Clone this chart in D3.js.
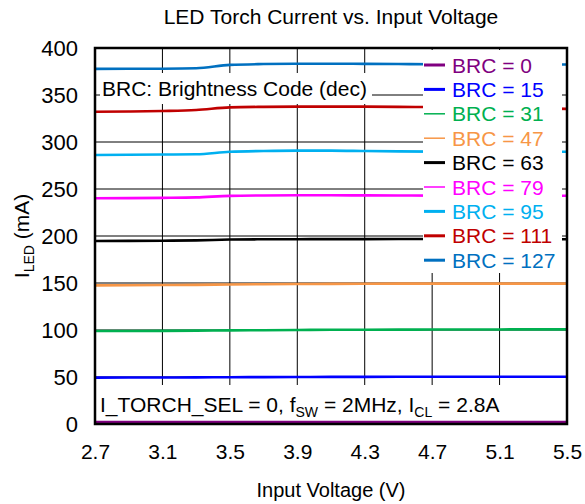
<!DOCTYPE html>
<html>
<head>
<meta charset="utf-8">
<script src="https://cdn.jsdelivr.net/npm/d3@7"></script>
<style>
  body { margin: 0; background: #fff; }
  text { font-family: "Liberation Sans", Arial, sans-serif; fill: #000; }
</style>
</head>
<body>
<svg id="chart" width="585" height="504"></svg>
<script>
// Input voltage sweep (V)
const voltages = [2.7, 2.9, 3.1, 3.3, 3.5, 3.7, 3.9, 4.1, 4.3, 4.5, 4.7, 4.9, 5.1, 5.3, 5.5];

// LED torch current (mA) for each brightness code
const brc0   = [2.0, 2.0, 2.0, 2.0, 2.1, 2.1, 2.1, 2.1, 2.1, 2.1, 2.1, 2.1, 2.1, 2.1, 2.1];
const brc15  = [49.3, 49.4, 49.5, 49.6, 49.8, 49.9, 50.0, 50.1, 50.1, 50.2, 50.2, 50.3, 50.3, 50.3, 50.3];
const brc31  = [98.9, 99.0, 99.1, 99.3, 99.6, 99.8, 100.0, 100.2, 100.3, 100.4, 100.5, 100.6, 100.6, 100.7, 100.7];
const brc47  = [147.5, 147.6, 147.8, 148.0, 148.4, 148.7, 148.9, 149.1, 149.2, 149.3, 149.3, 149.3, 149.3, 149.3, 149.3];
const brc63  = [194.7, 194.8, 195.0, 195.3, 196.2, 196.5, 196.6, 196.7, 196.7, 196.8, 196.8, 196.8, 196.7, 196.6, 196.5];
const brc79  = [240.1, 240.3, 240.6, 241.1, 242.7, 243.1, 243.3, 243.3, 243.2, 243.1, 242.9, 242.9, 242.8, 242.8, 242.8];
const brc95  = [286.2, 286.4, 286.7, 287.0, 289.6, 290.4, 290.8, 290.8, 290.4, 290.0, 289.8, 289.7, 289.6, 289.6, 289.6];
const brc111 = [332.2, 332.5, 333.0, 334.0, 336.8, 337.4, 337.6, 337.6, 337.6, 337.4, 337.2, 337.0, 336.5, 335.8, 335.2];
const brc127 = [377.8, 377.9, 378.0, 378.4, 382.0, 382.9, 383.2, 383.3, 383.1, 382.9, 382.7, 382.6, 382.5, 382.5, 382.5];

const seriesNames  = ["BRC = 0", "BRC = 15", "BRC = 31", "BRC = 47", "BRC = 63", "BRC = 79", "BRC = 95", "BRC = 111", "BRC = 127"];
const seriesColors = ["#800080", "#0000FF", "#00B050", "#F79646", "#000000", "#FF00FF", "#00B0F0", "#C00000", "#0070C0"];
const legendWidths = [3, 3, 1.5, 1.5, 3, 1.5, 3, 3, 3];

const xTicks = [2.7, 3.1, 3.5, 3.9, 4.3, 4.7, 5.1, 5.5];
const yTicks = [0, 50, 100, 150, 200, 250, 300, 350, 400];

const seriesValues = [brc0, brc15, brc31, brc47, brc63, brc79, brc95, brc111, brc127];
const series = seriesNames.map((name, i) => ({
  name,
  color: seriesColors[i],
  legendWidth: legendWidths[i],
  points: voltages.map((v, j) => ({ v, i: seriesValues[i][j] }))
}));

const svg = d3.select("#chart");
const plot = { left: 95, right: 567, top: 48, bottom: 424 };
const fontSize = 21;

const x = d3.scaleLinear().domain([2.7, 5.5]).range([plot.left, plot.right]);
const y = d3.scaleLinear().domain([0, 400]).range([plot.bottom, plot.top]);

// Title
svg.append("text")
  .attr("x", (plot.left + plot.right) / 2)
  .attr("y", 24)
  .attr("text-anchor", "middle")
  .style("font-size", "21px")
  .text("LED Torch Current vs. Input Voltage");

// Grid
const grid = svg.append("g").attr("class", "grid");
grid.selectAll("line.v")
  .data(xTicks.slice(1, -1))
  .join("line")
  .attr("x1", d => x(d)).attr("x2", d => x(d))
  .attr("y1", plot.top).attr("y2", plot.bottom)
  .attr("stroke", "#000").attr("stroke-width", 1);
grid.selectAll("line.h")
  .data(yTicks.slice(1, -1))
  .join("line")
  .attr("x1", plot.left).attr("x2", plot.right)
  .attr("y1", d => y(d)).attr("y2", d => y(d))
  .attr("stroke", "#000").attr("stroke-width", 1);

// Annotation: brightness code note
const note1 = svg.append("g");
note1.append("rect")
  .attr("x", 100).attr("y", 73).attr("width", 272).attr("height", 31)
  .attr("fill", "#fff");
note1.append("text")
  .attr("x", 102).attr("y", 96)
  .style("font-size", fontSize + "px")
  .text("BRC: Brightness Code (dec)");

// Annotation: test conditions
const note2 = svg.append("g");
note2.append("rect")
  .attr("x", plot.left + 1).attr("y", 385).attr("width", plot.right - plot.left - 2).attr("height", plot.bottom - 385)
  .attr("fill", "#fff");
const cond = note2.append("text")
  .attr("x", 100).attr("y", 412)
  .style("font-size", fontSize + "px");
cond.append("tspan").text("I_TORCH_SEL = 0, f");
cond.append("tspan").attr("dy", 5).style("font-size", "14px").text("SW");
cond.append("tspan").attr("dy", -5).text(" = 2MHz, I");
cond.append("tspan").attr("dy", 5).style("font-size", "14px").text("CL");
cond.append("tspan").attr("dy", -5).text(" = 2.8A");

// Data lines
const line = d3.line().x(d => x(d.v)).y(d => y(d.i)).curve(d3.curveMonotoneX);
svg.append("g").selectAll("path")
  .data(series)
  .join("path")
  .attr("d", d => line(d.points))
  .attr("fill", "none")
  .attr("stroke", d => d.color)
  .attr("stroke-width", 2.6)
  .attr("stroke-linejoin", "round");

// Legend
const legend = svg.append("g");
legend.append("rect")
  .attr("x", 423).attr("y", 50).attr("width", 139).attr("height", 223)
  .attr("fill", "#fff");
const rows = legend.selectAll("g.row")
  .data(series)
  .join("g")
  .attr("transform", (d, i) => `translate(424, ${65 + i * 24.4})`);
rows.append("line")
  .attr("x1", 0).attr("x2", 21)
  .attr("stroke", d => d.color)
  .attr("stroke-width", d => d.legendWidth);
rows.append("text")
  .attr("x", 28).attr("y", 7.5)
  .style("font-size", fontSize + "px")
  .style("fill", d => d.color)
  .text(d => d.name);

// Axes
const xAxis = svg.append("g")
  .attr("transform", `translate(0, ${plot.bottom})`)
  .call(d3.axisBottom(x).tickValues(xTicks).tickFormat(d3.format(".1f")).tickSize(0).tickPadding(20.5));
xAxis.select(".domain").remove();
xAxis.selectAll("text").style("font-size", fontSize + "px").attr("fill", "#000");

const yAxis = svg.append("g")
  .attr("transform", `translate(${plot.left}, 0)`)
  .call(d3.axisLeft(y).tickValues(yTicks).tickFormat(d3.format("d")).tickSize(0).tickPadding(17));
yAxis.select(".domain").remove();
yAxis.selectAll("text").style("font-size", "22px").attr("fill", "#000");

// Plot frame
svg.append("rect")
  .attr("x", plot.left).attr("y", plot.top)
  .attr("width", plot.right - plot.left).attr("height", plot.bottom - plot.top)
  .attr("fill", "none").attr("stroke", "#000").attr("stroke-width", 2.5);

// Axis titles
svg.append("text")
  .attr("x", (plot.left + plot.right) / 2)
  .attr("y", 497)
  .attr("text-anchor", "middle")
  .style("font-size", "20px")
  .text("Input Voltage (V)");

const yTitle = svg.append("text")
  .attr("transform", `translate(29, ${(plot.top + plot.bottom) / 2}) rotate(-90)`)
  .attr("text-anchor", "middle")
  .style("font-size", "21px");
yTitle.append("tspan").text("I");
yTitle.append("tspan").attr("dy", 5).style("font-size", "14px").text("LED");
yTitle.append("tspan").attr("dy", -5).text(" (mA)");
</script>
</body>
</html>
